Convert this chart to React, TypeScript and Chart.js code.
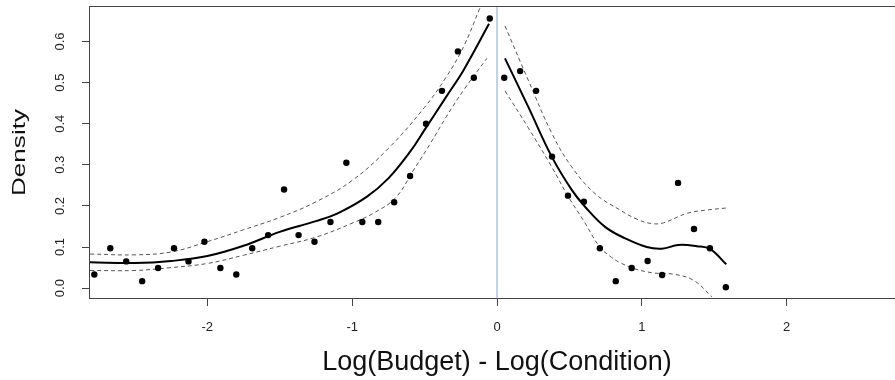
import React, { useEffect, useRef } from 'react';
import { Chart, registerables } from 'chart.js';

Chart.register(...registerables);

// Observed densities (points)
const pointX = [-2.78, -2.67, -2.56, -2.45, -2.34, -2.23, -2.13, -2.02, -1.91, -1.80, -1.69, -1.58, -1.47, -1.37, -1.26, -1.15, -1.04, -0.93, -0.82, -0.71, -0.60, -0.49, -0.38, -0.27, -0.16, -0.05,
  0.05, 0.16, 0.27, 0.38, 0.49, 0.60, 0.71, 0.82, 0.93, 1.04, 1.14, 1.25, 1.36, 1.47, 1.58];
const pointY = [0.033, 0.097, 0.065, 0.017, 0.049, 0.097, 0.065, 0.113, 0.049, 0.033, 0.097, 0.129, 0.240, 0.129, 0.113, 0.161, 0.305, 0.161, 0.161, 0.209, 0.273, 0.400, 0.480, 0.576, 0.512, 0.656,
  0.512, 0.528, 0.480, 0.320, 0.225, 0.210, 0.097, 0.017, 0.049, 0.066, 0.032, 0.256, 0.144, 0.097, 0.002];

// Left fitted curve and bands
const leftFitX = [-2.81, -2.5, -2.25, -2.0, -1.75, -1.5, -1.25, -1.1, -0.9, -0.75, -0.6, -0.5, -0.35, -0.23, -0.055];
const leftFitY = [0.063, 0.061, 0.066, 0.078, 0.103, 0.137, 0.163, 0.182, 0.222, 0.267, 0.332, 0.385, 0.466, 0.531, 0.643];
const leftUpX = [-2.81, -2.5, -2.25, -2.0, -1.75, -1.5, -1.25, -1.0, -0.75, -0.5, -0.35, -0.23, -0.12, -0.06];
const leftUpY = [0.083, 0.081, 0.088, 0.113, 0.142, 0.172, 0.210, 0.262, 0.340, 0.440, 0.514, 0.588, 0.680, 0.730];
const leftLoX = [-2.81, -2.5, -2.25, -2.0, -1.75, -1.5, -1.25, -1.0, -0.85, -0.7, -0.58, -0.46, -0.35, -0.23, -0.07];
const leftLoY = [0.043, 0.043, 0.050, 0.060, 0.080, 0.102, 0.124, 0.158, 0.183, 0.220, 0.285, 0.352, 0.417, 0.482, 0.559];

// Right fitted curve and bands
const rightFitX = [0.055, 0.216, 0.378, 0.516, 0.608, 0.746, 0.885, 1.034, 1.138, 1.253, 1.38, 1.472, 1.583];
const rightFitY = [0.559, 0.441, 0.320, 0.239, 0.198, 0.149, 0.121, 0.100, 0.096, 0.105, 0.102, 0.095, 0.058];
const rightUpX = [0.055, 0.216, 0.378, 0.516, 0.677, 0.85, 0.965, 1.069, 1.15, 1.311, 1.449, 1.583];
const rightUpY = [0.638, 0.506, 0.377, 0.295, 0.230, 0.190, 0.168, 0.157, 0.159, 0.182, 0.190, 0.195];
const rightLoX = [0.055, 0.216, 0.378, 0.488, 0.60, 0.71, 0.79, 0.85, 0.942, 1.08, 1.218, 1.357, 1.484];
const rightLoY = [0.480, 0.390, 0.295, 0.225, 0.163, 0.100, 0.075, 0.062, 0.048, 0.037, 0.034, 0.019, -0.021];

const xTicks = [-2, -1, 0, 1, 2];
const yTicks = [0, 0.1, 0.2, 0.3, 0.4, 0.5, 0.6];
const xRange = [-2.81, 2.81];
const yRange = [-0.024, 0.684];
const refLineX = 0;

const xTitle = 'Log(Budget) - Log(Condition)';
const yTitle = 'Density';

const zip = (xs: number[], ys: number[]) => xs.map((x, i) => ({ x, y: ys[i] }));

const framePlugin = {
  id: 'frame',
  afterDraw(chart: any) {
    const { ctx, chartArea: a } = chart;
    ctx.save();
    ctx.strokeStyle = '#444';
    ctx.lineWidth = 1;
    ctx.strokeRect(a.left - 0.5, a.top - 0.5, a.right - a.left + 1, a.bottom - a.top + 1);
    ctx.restore();

    ctx.save();
    ctx.fillStyle = '#111';
    ctx.translate(25, (a.top + a.bottom) / 2);
    ctx.rotate(-Math.PI / 2);
    ctx.scale(1.45, 1);
    ctx.font = '18px "Liberation Sans", Arial, sans-serif';
    ctx.textAlign = 'center';
    ctx.textBaseline = 'alphabetic';
    ctx.fillText(yTitle, 0, 0);
    ctx.restore();
  },
};

export default function App() {
  const ref = useRef<HTMLCanvasElement | null>(null);

  useEffect(() => {
    if (!ref.current) return;
    const solid = { showLine: true, borderColor: '#000', borderWidth: 2, pointRadius: 0, tension: 0.4, fill: false };
    const dashed = { showLine: true, borderColor: '#555', borderWidth: 1, borderDash: [4, 3], pointRadius: 0, tension: 0.4, fill: false };
    const chart = new Chart(ref.current, {
      type: 'scatter',
      data: {
        datasets: [
          { data: zip(pointX, pointY), pointRadius: 3.2, pointBackgroundColor: '#000', pointBorderColor: '#000', pointBorderWidth: 0, showLine: false },
          { data: zip(leftFitX, leftFitY), ...solid },
          { data: zip(leftUpX, leftUpY), ...dashed },
          { data: zip(leftLoX, leftLoY), ...dashed },
          { data: zip(rightFitX, rightFitY), ...solid },
          { data: zip(rightUpX, rightUpY), ...dashed },
          { data: zip(rightLoX, rightLoY), ...dashed },
          { data: [{ x: refLineX, y: yRange[0] }, { x: refLineX, y: yRange[1] }], showLine: true, borderColor: '#7ea7d4', borderWidth: 1, pointRadius: 0 },
        ] as any,
      },
      options: {
        animation: false,
        responsive: false,
        maintainAspectRatio: false,
        layout: { padding: { top: 7, right: 11, left: 0, bottom: 0 } },
        plugins: { legend: { display: false }, tooltip: { enabled: false } },
        scales: {
          x: {
            type: 'linear',
            min: xRange[0],
            max: xRange[1],
            afterFit: (s: any) => { s.height = 82; s.paddingLeft = 0; s.paddingRight = 0; },
            afterBuildTicks: (s: any) => { s.ticks = xTicks.map((v) => ({ value: v })); },
            grid: { display: true, drawOnChartArea: false, drawTicks: true, tickLength: 8, color: '#444', tickColor: '#444' },
            border: { display: false },
            ticks: {
              includeBounds: false,
              padding: 14,
              color: '#222',
              font: { family: '"Liberation Sans", Arial, sans-serif', size: 13 },
              maxRotation: 0,
              callback: (v: any) => String(v),
            },
            title: {
              display: true,
              text: xTitle,
              color: '#111',
              font: { family: '"Liberation Sans", Arial, sans-serif', size: 27 },
              padding: { top: 0, bottom: 1 },
            },
          },
          y: {
            type: 'linear',
            min: yRange[0],
            max: yRange[1],
            afterFit: (s: any) => { s.width = 90; s.paddingTop = 0; s.paddingBottom = 0; },
            afterBuildTicks: (s: any) => { s.ticks = yTicks.map((v) => ({ value: v })); },
            grid: { display: true, drawOnChartArea: false, drawTicks: true, tickLength: 8, color: '#444', tickColor: '#444' },
            border: { display: false },
            ticks: {
              includeBounds: false,
              padding: 13,
              color: '#222',
              crossAlign: 'center',
              minRotation: 90,
              maxRotation: 90,
              font: { family: '"Liberation Sans", Arial, sans-serif', size: 13 },
              callback: (v: any) => Number(v).toFixed(1),
            },
          },
        },
      } as any,
      plugins: [framePlugin],
    });
    return () => chart.destroy();
  }, []);

  return (
    <div style={{ position: 'absolute', left: 0, top: 0, width: 895, height: 380, overflow: 'hidden', background: '#fff' }}>
      <canvas ref={ref} width={915} height={380} style={{ width: 915, height: 380, display: 'block' }} />
    </div>
  );
}
